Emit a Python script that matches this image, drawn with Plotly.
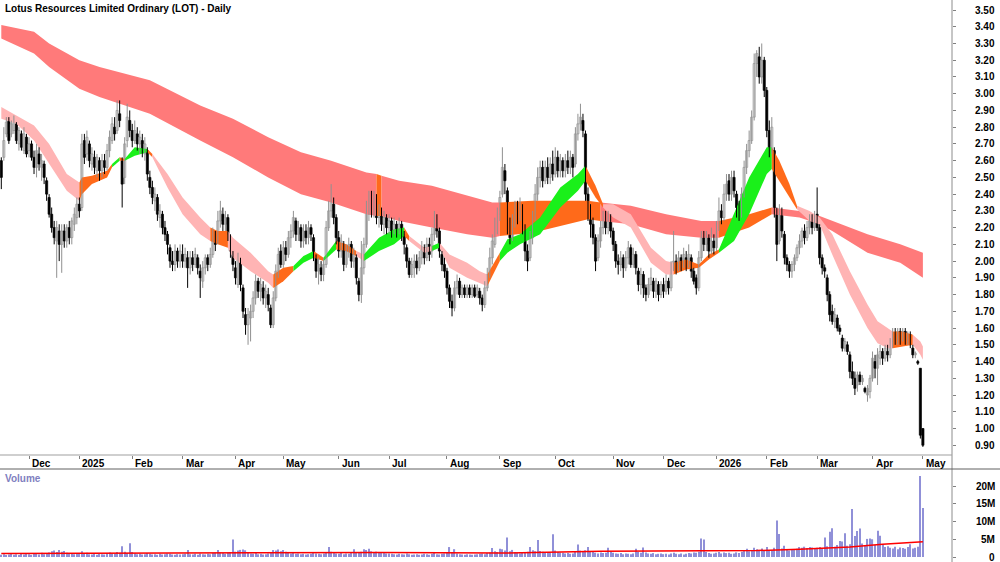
import plotly.graph_objects as go
import pandas as pd

# ---------------- data ----------------
holidays = ["2024-12-25", "2024-12-26", "2025-01-01", "2025-01-27", "2025-04-18", "2025-04-21",
            "2025-04-25", "2025-06-09", "2025-12-25", "2025-12-26", "2026-01-01", "2026-01-26",
            "2026-04-03", "2026-04-06"]

opens = [
    2.60,2.62,2.76,2.84,2.76,2.78,2.82,2.70,2.76,2.66,2.74,
    2.66,2.70,2.62,2.56,2.64,2.56,2.58,2.48,2.38,2.28,2.20,2.12,2.18,2.10,2.18,2.12,2.20,2.14,2.22,2.26,
    2.34,2.32,2.72,2.64,2.70,2.58,2.62,2.54,2.60,2.54,2.60,2.56,2.66,2.72,2.80,2.78,2.88,2.60,2.50,2.72,2.84,
    2.78,2.72,2.76,2.70,2.72,2.64,2.66,2.50,2.44,2.36,2.38,2.26,2.28,2.20,2.16,2.08,2.00,1.98,2.06,2.00,
    2.04,2.00,2.02,1.96,2.02,1.98,2.02,1.94,1.88,1.96,2.02,1.98,2.04,2.14,2.12,2.24,2.28,2.22,2.26,2.14,2.04,
    1.96,1.86,2.00,1.84,1.68,1.62,1.66,1.70,1.78,1.88,1.82,1.84,1.78,1.80,1.72,1.62,1.78,1.94,2.06,
    1.98,2.08,2.04,2.14,2.18,2.24,2.16,2.20,2.12,2.18,2.14,2.20,2.14,2.02,1.94,1.96,1.92,1.98,2.20,2.30,2.34,2.26,
    2.14,2.06,2.10,1.98,2.06,2.10,2.00,2.02,1.88,1.80,1.96,2.10,2.28,2.36,2.30,2.36,2.26,2.30,2.22,2.26,
    2.20,2.24,2.18,2.22,2.18,2.22,2.16,2.08,2.00,1.92,1.96,2.00,1.96,2.02,2.08,2.02,2.10,2.06,2.16,2.24,2.18,2.04,1.98,
    1.94,1.84,1.76,1.72,1.84,1.88,1.80,1.84,1.80,1.84,1.80,1.84,1.80,1.82,1.78,1.74,1.84,1.92,2.02,2.10,2.20,
    2.28,2.40,2.54,2.42,2.22,2.14,2.24,2.32,2.28,2.32,2.20,2.06,2.02,2.14,2.26,2.40,2.50,2.56,2.48,2.56,2.50,2.58,
    2.52,2.62,2.54,2.60,2.54,2.60,2.56,2.62,2.58,2.76,2.82,2.84,2.76,2.40,2.30,2.22,2.14,2.02,2.12,2.20,2.26,2.20,2.26,
    2.18,2.10,2.00,1.98,2.02,1.96,2.02,2.08,1.98,2.04,1.94,1.86,1.92,1.84,1.80,1.86,1.88,1.82,1.86,1.80,
    1.86,1.82,1.88,1.84,1.96,2.00,1.96,2.02,1.98,2.02,1.98,2.02,1.94,1.90,1.84,2.02,2.14,2.10,2.14,2.06,2.12,
    2.08,2.20,2.30,2.26,2.40,2.48,2.40,2.50,2.40,2.32,2.28,2.40,2.56,2.66,2.72,2.86,3.18,3.22,3.10,3.20,
    3.02,2.78,2.66,2.66,2.30,2.12,2.28,2.16,2.02,1.98,1.94,1.98,2.02,2.08,2.12,2.18,2.14,2.20,2.24,2.20,
    2.28,2.20,2.02,1.96,1.90,1.80,1.70,1.64,1.66,1.60,1.54,1.48,1.50,1.44,1.34,1.30,1.26,1.32,1.28,1.24,1.20,1.22,
    1.30,1.40,1.36,1.42,1.46,1.42,1.46,1.44,1.52,1.56,1.52,1.58,1.54,1.58,1.52,1.56,1.48,1.44,1.40,1.36,1.00,
]
highs = [
    2.62,2.80,2.86,2.86,2.84,2.87,2.83,2.80,2.78,2.80,2.76,
    2.74,2.72,2.66,2.70,2.68,2.64,2.60,2.50,2.40,2.32,2.24,2.24,2.22,2.22,2.22,2.22,2.24,2.26,2.32,2.38,
    2.38,2.76,2.76,2.78,2.72,2.68,2.66,2.64,2.62,2.64,2.64,2.70,2.78,2.86,2.86,2.96,2.96,2.62,2.74,2.94,2.90,
    2.82,2.84,2.80,2.78,2.76,2.74,2.68,2.54,2.48,2.44,2.40,2.34,2.30,2.24,2.18,2.10,2.06,2.10,2.08,2.10,
    2.10,2.08,2.06,2.06,2.06,2.08,2.04,1.98,2.00,2.04,2.04,2.08,2.20,2.18,2.30,2.36,2.32,2.30,2.28,2.16,2.06,
    2.00,2.05,2.02,1.86,1.72,1.72,1.74,1.82,1.92,1.90,1.90,1.88,1.86,1.84,1.74,1.82,1.98,2.08,2.10,
    2.12,2.12,2.18,2.22,2.30,2.26,2.24,2.22,2.22,2.22,2.24,2.22,2.16,2.04,2.02,2.00,2.02,2.24,2.36,2.46,2.38,2.28,
    2.18,2.16,2.12,2.10,2.14,2.12,2.08,2.04,1.90,2.12,2.14,2.36,2.42,2.42,2.42,2.40,2.34,2.32,2.30,2.28,
    2.28,2.26,2.26,2.24,2.26,2.24,2.18,2.10,2.02,2.02,2.04,2.04,2.06,2.12,2.10,2.14,2.14,2.20,2.30,2.28,2.20,2.06,2.02,
    1.96,1.86,1.80,1.88,1.92,1.90,1.86,1.86,1.86,1.86,1.86,1.86,1.86,1.84,1.80,1.88,1.96,2.08,2.16,2.26,2.32,
    2.42,2.68,2.58,2.44,2.26,2.28,2.36,2.36,2.38,2.34,2.22,2.10,2.18,2.30,2.46,2.56,2.60,2.60,2.60,2.62,2.62,2.66,
    2.68,2.66,2.64,2.62,2.64,2.66,2.66,2.64,2.80,2.88,2.94,2.88,2.78,2.44,2.34,2.26,2.16,2.16,2.24,2.30,2.30,2.30,2.28,
    2.20,2.12,2.04,2.06,2.04,2.06,2.12,2.10,2.08,2.06,1.96,1.96,1.94,1.86,1.90,1.96,1.90,1.90,1.88,1.88,
    1.90,1.92,1.90,2.00,2.18,2.04,2.06,2.04,2.08,2.06,2.10,2.04,1.96,1.92,2.06,2.18,2.18,2.18,2.16,2.20,2.16,
    2.24,2.38,2.34,2.46,2.52,2.52,2.54,2.54,2.42,2.36,2.44,2.60,2.70,2.78,2.90,3.24,3.26,3.28,3.30,3.22,
    3.04,2.84,2.86,2.68,2.32,2.34,2.32,2.18,2.04,2.00,2.00,2.04,2.10,2.16,2.20,2.22,2.24,2.28,2.28,2.30,
    2.44,2.22,2.04,1.98,1.92,1.82,1.74,1.72,1.68,1.62,1.56,1.54,1.52,1.46,1.40,1.34,1.34,1.34,1.32,1.25,1.26,1.32,
    1.46,1.44,1.48,1.50,1.48,1.50,1.50,1.54,1.60,1.60,1.60,1.60,1.60,1.60,1.58,1.58,1.50,1.46,1.41,1.36,1.00,
]
lows = [
    2.43,2.60,2.74,2.70,2.74,2.76,2.70,2.66,2.66,2.64,2.62,
    2.62,2.60,2.52,2.50,2.54,2.48,2.46,2.36,2.26,2.17,2.10,1.90,2.00,1.93,2.08,2.08,2.10,2.10,2.18,2.22,
    2.26,2.30,2.58,2.60,2.56,2.54,2.52,2.50,2.48,2.50,2.52,2.54,2.62,2.70,2.72,2.76,2.80,2.32,2.46,2.68,2.74,
    2.68,2.70,2.66,2.64,2.62,2.60,2.48,2.40,2.34,2.30,2.24,2.20,2.16,2.12,2.04,1.96,1.94,1.94,1.96,1.96,
    1.96,1.96,1.84,1.92,1.94,1.96,1.92,1.78,1.84,1.92,1.94,1.96,2.02,2.06,2.10,2.20,2.18,2.18,2.12,2.02,1.94,
    1.86,1.84,1.82,1.66,1.56,1.50,1.52,1.66,1.74,1.78,1.76,1.74,1.72,1.70,1.60,1.60,1.76,1.90,1.96,
    1.96,2.00,2.02,2.08,2.14,2.12,2.12,2.08,2.08,2.10,2.10,2.12,2.00,1.90,1.86,1.88,1.88,1.96,2.18,2.26,2.22,2.10,
    2.02,2.02,1.94,1.96,2.02,1.96,1.96,1.86,1.76,1.75,1.92,2.08,2.24,2.26,2.26,2.22,2.20,2.18,2.16,2.16,
    2.16,2.14,2.16,2.14,2.16,2.12,2.04,1.96,1.90,1.90,1.90,1.92,1.94,1.98,1.98,2.00,2.00,2.02,2.12,2.14,2.02,1.94,1.90,
    1.80,1.72,1.67,1.70,1.80,1.78,1.78,1.78,1.78,1.78,1.78,1.78,1.78,1.74,1.70,1.72,1.82,1.90,1.98,2.08,2.16,
    2.24,2.38,2.40,2.16,2.10,2.12,2.20,2.22,2.24,2.16,2.00,1.94,2.00,2.10,2.24,2.36,2.44,2.44,2.46,2.46,2.46,2.48,
    2.50,2.50,2.50,2.50,2.50,2.52,2.52,2.50,2.56,2.72,2.78,2.74,2.36,2.24,2.14,2.10,1.94,2.00,2.08,2.16,2.16,2.16,2.14,
    2.06,1.96,1.92,1.94,1.90,1.94,1.98,1.96,1.96,1.92,1.82,1.80,1.78,1.76,1.78,1.82,1.78,1.78,1.76,1.78,
    1.78,1.80,1.80,1.82,1.94,1.92,1.94,1.94,1.96,1.94,1.96,1.90,1.86,1.80,1.82,2.00,2.06,2.06,2.02,2.04,2.04,
    2.06,2.18,2.22,2.24,2.36,2.36,2.36,2.38,2.26,2.24,2.26,2.38,2.52,2.62,2.70,2.84,3.10,3.06,3.06,2.98,
    2.74,2.62,2.64,2.26,2.00,2.10,2.14,1.98,1.94,1.90,1.90,1.94,2.00,2.04,2.08,2.10,2.12,2.16,2.16,2.18,
    2.18,1.98,1.92,1.90,1.76,1.64,1.62,1.60,1.58,1.56,1.46,1.46,1.44,1.30,1.26,1.20,1.22,1.26,1.26,1.21,1.16,1.18,
    1.28,1.30,1.26,1.38,1.38,1.40,1.40,1.42,1.48,1.50,1.50,1.50,1.52,1.50,1.50,1.48,1.42,1.42,1.38,0.94,0.89,
]
closes = [
    2.50,2.72,2.83,2.72,2.82,2.84,2.72,2.78,2.68,2.76,2.64,
    2.70,2.62,2.56,2.66,2.58,2.60,2.50,2.40,2.28,2.20,2.14,2.20,2.10,2.18,2.12,2.20,2.14,2.24,2.28,2.34,
    2.30,2.70,2.62,2.74,2.60,2.64,2.56,2.62,2.54,2.60,2.56,2.66,2.74,2.82,2.76,2.90,2.84,2.46,2.70,2.86,2.78,
    2.72,2.78,2.70,2.74,2.66,2.70,2.52,2.44,2.38,2.40,2.28,2.30,2.20,2.16,2.10,2.00,1.98,2.06,2.00,2.06,
    2.00,2.04,1.96,2.02,1.98,2.04,1.96,1.90,1.96,2.02,1.98,2.04,2.16,2.10,2.24,2.30,2.22,2.26,2.16,2.06,1.98,
    1.90,2.02,1.86,1.70,1.62,1.68,1.70,1.78,1.88,1.82,1.86,1.78,1.82,1.74,1.62,1.78,1.94,2.04,1.98,
    2.08,2.04,2.14,2.18,2.26,2.16,2.20,2.12,2.18,2.14,2.20,2.16,2.02,1.94,1.98,1.92,1.98,2.20,2.30,2.36,2.26,2.14,
    2.06,2.12,1.98,2.06,2.10,2.00,2.04,1.90,1.80,1.96,2.10,2.30,2.36,2.30,2.38,2.26,2.30,2.22,2.26,2.20,
    2.24,2.18,2.22,2.18,2.22,2.16,2.10,2.00,1.92,1.98,2.00,1.96,2.02,2.08,2.02,2.10,2.04,2.16,2.26,2.18,2.06,1.98,1.94,
    1.84,1.76,1.72,1.84,1.88,1.80,1.84,1.80,1.84,1.80,1.84,1.79,1.84,1.78,1.74,1.84,1.92,2.02,2.12,2.20,2.28,
    2.38,2.56,2.48,2.22,2.14,2.24,2.32,2.28,2.34,2.20,2.06,2.00,2.14,2.26,2.40,2.50,2.56,2.48,2.56,2.50,2.58,2.52,
    2.62,2.54,2.60,2.54,2.60,2.56,2.62,2.56,2.76,2.82,2.86,2.78,2.40,2.30,2.22,2.14,2.00,2.12,2.20,2.26,2.20,2.26,2.18,
    2.10,2.00,1.98,2.02,1.96,2.02,2.08,1.98,2.04,1.96,1.86,1.92,1.84,1.80,1.86,1.90,1.82,1.88,1.80,1.86,
    1.82,1.88,1.84,1.96,2.00,1.96,2.02,1.98,2.04,1.98,2.04,1.94,1.88,1.84,2.02,2.14,2.10,2.16,2.06,2.12,2.08,
    2.20,2.30,2.26,2.40,2.46,2.40,2.50,2.42,2.32,2.28,2.40,2.56,2.66,2.72,2.86,3.18,3.24,3.10,3.20,3.02,
    2.78,2.66,2.80,2.30,2.10,2.30,2.18,2.02,1.98,1.94,1.98,2.02,2.08,2.12,2.18,2.14,2.20,2.24,2.20,2.26,
    2.20,2.02,1.96,1.94,1.80,1.68,1.64,1.68,1.60,1.58,1.48,1.52,1.46,1.34,1.30,1.24,1.32,1.28,1.30,1.22,1.24,1.30,
    1.42,1.36,1.44,1.46,1.42,1.48,1.44,1.52,1.56,1.52,1.58,1.54,1.58,1.52,1.56,1.50,1.44,1.45,1.39,0.96,0.90,
]
volumes_m = [
    0.6,0.8,0.5,0.7,0.9,0.6,0.8,0.5,1.0,0.7,0.9,
    0.8,0.6,1.1,0.9,0.7,1.2,0.8,1.0,1.3,1.6,1.8,1.4,2.0,1.5,1.7,1.2,1.0,0.9,0.8,1.1,
    0.9,1.6,1.0,1.2,0.8,0.7,1.0,0.6,0.9,0.8,0.7,1.1,1.3,1.0,0.9,1.4,1.2,3.0,1.5,1.1,3.9,
    1.4,1.0,0.8,0.9,0.7,0.8,1.1,0.9,0.7,0.8,0.6,0.9,0.7,0.8,1.0,0.9,0.7,0.6,0.8,0.7,
    0.8,0.9,2.0,0.8,0.7,0.9,0.6,1.0,0.8,0.7,0.9,0.8,1.1,1.2,2.0,1.3,1.1,0.9,1.2,1.4,4.9,
    1.5,1.8,2.0,2.1,1.9,1.2,1.0,0.9,1.1,0.8,0.9,0.7,0.8,1.0,1.2,2.0,1.8,2.1,1.6,
    2.0,1.5,1.2,1.0,1.1,0.9,1.0,0.8,0.9,0.7,0.8,0.9,1.2,1.0,0.9,0.8,1.0,1.3,2.8,1.5,1.2,1.0,
    0.9,1.1,0.8,1.0,0.9,1.2,2.2,1.1,1.3,1.5,2.2,2.0,2.3,1.6,1.4,1.5,1.2,1.3,1.1,1.0,
    1.0,0.9,0.8,0.7,0.9,0.8,0.7,1.0,0.8,0.6,0.7,0.8,0.6,0.7,0.9,0.8,0.6,0.9,1.1,0.8,0.7,0.9,1.0,
    1.2,2.8,1.4,2.2,1.0,0.8,0.7,0.6,0.8,0.7,0.6,0.7,0.8,0.9,1.0,0.8,1.1,1.3,2.5,1.6,1.4,
    2.3,2.2,1.8,5.5,1.6,2.0,1.4,1.2,1.0,1.3,1.1,1.5,2.8,1.9,1.6,4.8,1.7,1.5,1.4,1.2,1.3,6.4,
    1.8,1.4,1.3,1.2,1.0,1.1,0.9,1.0,1.6,3.5,1.8,1.5,1.9,2.8,1.6,1.4,1.2,1.0,1.3,1.1,1.2,2.6,1.5,
    1.2,1.0,0.9,1.1,0.8,1.0,0.9,0.8,1.0,2.3,1.4,1.2,2.7,1.3,1.0,0.9,1.1,0.8,0.9,1.0,
    0.8,0.9,0.7,1.0,1.2,0.9,0.8,1.0,0.7,0.9,1.1,1.0,1.3,1.2,1.5,5.2,4.9,1.4,1.1,0.9,1.0,
    1.2,1.4,1.0,1.3,1.1,1.2,0.9,1.0,1.3,1.1,1.5,1.8,2.3,1.6,2.0,2.6,2.2,1.8,2.4,2.0,
    2.8,2.0,1.9,2.6,10.3,6.5,2.4,3.2,2.2,1.8,2.0,2.1,2.3,2.8,2.6,2.9,2.5,2.8,2.7,2.4,
    2.6,2.8,2.4,5.5,3.0,7.1,8.1,2.9,3.4,4.5,4.4,6.7,3.2,3.6,13.5,5.9,7.3,8.0,3.8,3.4,5.1,5.2,
    5.0,3.4,7.4,6.0,3.5,2.8,3.0,2.6,2.4,2.9,2.2,2.7,2.5,2.3,2.8,3.6,2.4,2.6,2.9,22.8,13.8,
]

# short-term ribbon (sampled at trading-day index)
sb_idx = [0,6,13,19,26, 31,32,36,42,44, 47,49,53,58,60, 66,72,79,83,86, 90,92,99,106,108,
          112,116,120,124,128, 133,137,141,144,150, 156,160,162,168,171, 174,178,185,190,193,
          198,201,206,214,222, 229,232,236,239,243, 250,258,264,267,272, 277,281,285,291,297,
          304,306,309,313,316, 321,325,330,337,344, 348,352,354,358,362, 365,366]
sb_up = [2.92,2.87,2.81,2.70,2.52, 2.47,2.50,2.51,2.54,2.58, 2.62,2.61,2.68,2.67,2.64,
         2.52,2.38,2.26,2.20,2.18, 2.18,2.14,2.05,1.94,1.92, 1.96,1.97,2.03,2.06,2.02,
         2.12,2.10,2.06,2.04,2.14, 2.19,2.20,2.15,2.08,2.09, 2.11,2.04,1.99,1.94,1.92,
         2.05,2.13,2.16,2.26,2.44, 2.52,2.57,2.45,2.34,2.34, 2.28,2.08,2.00,1.99,2.01,
         1.98,2.04,2.07,2.28,2.50, 2.68,2.68,2.60,2.46,2.33, 2.30,2.26,2.16,1.94,1.74,
         1.64,1.60,1.58,1.58,1.56, 1.52,1.49]
sb_lo = [2.85,2.82,2.72,2.58,2.42, 2.36,2.40,2.46,2.50,2.56, 2.60,2.60,2.63,2.65,2.62,
         2.44,2.28,2.16,2.12,2.10, 2.08,2.02,1.94,1.87,1.84, 1.88,1.94,1.99,2.02,2.00,
         2.07,2.06,2.03,2.00,2.06, 2.10,2.15,2.12,2.05,2.06, 2.08,1.96,1.90,1.87,1.85,
         2.00,2.05,2.10,2.16,2.32, 2.42,2.48,2.38,2.32,2.26, 2.20,1.99,1.92,1.92,1.95,
         1.96,2.01,2.05,2.12,2.28, 2.52,2.55,2.48,2.38,2.31, 2.24,2.22,2.04,1.80,1.60,
         1.51,1.48,1.48,1.49,1.50, 1.44,1.41]
sb_col = ["P","P","P","P","P", "O","O","O","O","G", "O","G","G","O","P", "P","P","P","O","O",
          "P","P","P","P","O", "O","G","G","O","G", "O","O","P","G","G", "G","O","P","P","G",
          "P","P","P","P","O", "G","G","G","G","G", "G","O","O","P","P", "P","P","P","O","O",
          "O","O","G","G","G", "G","O","O","O","P", "P","P","P","P","P", "P","P","O","O","P", "P"]

# long-term ribbon
lb_idx = [0,13,19,31,39, 59,79,92,106,119, 131,145,149,151,158, 171,185,195,198,211,
          222,233,238,250,264, 278,285,297,306,317, 325,330,344,357,366]
lb_up = [3.41,3.37,3.30,3.20,3.16, 3.08,2.93,2.85,2.74,2.65, 2.60,2.53,2.52,2.51,2.48,
         2.45,2.39,2.35,2.35,2.36, 2.36,2.36,2.35,2.33,2.28, 2.24,2.24,2.28,2.32,2.30,
         2.27,2.24,2.16,2.10,2.05]
lb_lo = [3.33,3.24,3.16,3.03,2.98, 2.88,2.72,2.62,2.50,2.40, 2.35,2.28,2.27,2.27,2.24,
         2.20,2.16,2.14,2.15,2.17, 2.21,2.25,2.24,2.22,2.16, 2.14,2.14,2.20,2.28,2.26,
         2.22,2.18,2.05,1.99,1.90]
lb_col = ["R","R","R","R","R", "R","R","R","R","R", "R","R","O","R","R", "R","R","R","O","O",
          "O","O","R","R","R", "R","O","O","R","R", "R","R","R","R"]

# volume moving average (millions)
vma_idx = [0, 60, 100, 150, 175, 198, 238, 278, 300, 317, 337, 350, 366]
vma_val = [1.0, 1.1, 1.3, 1.3, 1.2, 1.1, 1.6, 1.6, 1.8, 2.2, 2.8, 3.6, 4.3]

price_tick_labels = ["0.90","1.00","1.10","1.20","1.30","1.40","1.50","1.60","1.70","1.80","1.90",
                     "2.00","2.10","2.20","2.30","2.40","2.50","2.60","2.70","2.80","2.90","3.00",
                     "3.10","3.20","3.30","3.40","3.50"]
vol_tick_vals = [0, 5, 10, 15, 20]
vol_tick_labels = ["0", "5M", "10M", "15M", "20M"]

title_text = "Lotus Resources Limited Ordinary (LOT) - Daily"

# ---------------- layout geometry ----------------
W, H = 1000, 562
PLOT_R = 952          # right edge of plotting area (px)
Y_PRICE_BOT = 455     # bottom of price panel (px)
Y_VOL_TOP = 469       # top of volume panel (px)

def py(y_px):
    return 1 - y_px / H

n = len(closes)
dates = pd.bdate_range("2024-11-15", "2026-05-29")
dates = dates[~dates.isin(pd.to_datetime(holidays))][:n]
month_idx, month_lab = [], []
for k in range(1, n):
    if dates[k].month != dates[k - 1].month:
        month_idx.append(k)
        month_lab.append(str(dates[k].year) if dates[k].month == 1 else dates[k].strftime("%b"))

px_per_day = 2.518
x0 = -1.3 / px_per_day
x_range = [x0, x0 + PLOT_R / px_per_day]
p_range = [3.5 - (Y_PRICE_BOT - 10) / 167.4, 3.5 + 10 / 167.4]
v_scale = 3.55  # px per million
v_range = [-(H - 557) / v_scale, (557 - Y_VOL_TOP) / v_scale]

FONT = "Liberation Sans, Arial, sans-serif"
COLS = {"R": "#ff7a7a", "O": "#ff6a1a", "G": "#1af01a", "P": "#ffb4b4"}

fig = go.Figure()

def add_band(idx, up, lo, cols):
    k = 0
    while k < len(cols):
        j = k
        while j + 1 < len(cols) and cols[j + 1] == cols[k]:
            j += 1
        xs = idx[k:j + 2]
        fig.add_trace(go.Scatter(x=xs, y=lo[k:j + 2], mode="lines", line=dict(width=0),
                                 hoverinfo="skip", showlegend=False))
        fig.add_trace(go.Scatter(x=xs, y=up[k:j + 2], mode="lines", line=dict(width=0),
                                 fill="tonexty", fillcolor=COLS[cols[k]],
                                 hoverinfo="skip", showlegend=False))
        k = j + 1

add_band(lb_idx, lb_up, lb_lo, lb_col)
add_band(sb_idx, sb_up, sb_lo, sb_col)

# wicks
wx_up, wy_up, wx_dn, wy_dn = [], [], [], []
for i in range(n):
    if closes[i] >= opens[i]:
        wx_up += [i, i, None]; wy_up += [lows[i], highs[i], None]
    else:
        wx_dn += [i, i, None]; wy_dn += [lows[i], highs[i], None]
fig.add_trace(go.Scatter(x=wx_up, y=wy_up, mode="lines", line=dict(color="#909090", width=1),
                         hoverinfo="skip", showlegend=False))
fig.add_trace(go.Scatter(x=wx_dn, y=wy_dn, mode="lines", line=dict(color="#000000", width=1),
                         hoverinfo="skip", showlegend=False))

# bodies
base = [min(o, c) for o, c in zip(opens, closes)]
hgt = [max(abs(c - o), 0.006) for o, c in zip(opens, closes)]
fill = ["#ffffff" if c >= o else "#000000" for o, c in zip(opens, closes)]
edge = ["#909090" if c >= o else "#000000" for o, c in zip(opens, closes)]
fig.add_trace(go.Bar(x=list(range(n)), y=hgt, base=base, width=0.85,
                     marker=dict(color=fill, line=dict(color=edge, width=0.7)),
                     hoverinfo="skip", showlegend=False))

# volume
fig.add_trace(go.Bar(x=list(range(n)), y=volumes_m, width=0.45, xaxis="x2", yaxis="y2",
                     marker=dict(color="#9090d8", line=dict(width=0)),
                     hoverinfo="skip", showlegend=False))
fig.add_trace(go.Scatter(x=vma_idx, y=vma_val, xaxis="x2", yaxis="y2", mode="lines",
                         line=dict(color="#ff0000", width=1.5), hoverinfo="skip", showlegend=False))

annotations = [
    dict(text="<b>" + title_text + "</b>", x=3 / W, y=py(8.5), xref="paper", yref="paper",
         xanchor="left", yanchor="middle", showarrow=False, font=dict(family=FONT, size=10, color="#000")),
    dict(text="<b>Volume</b>", x=3 / W, y=py(478), xref="paper", yref="paper",
         xanchor="left", yanchor="middle", showarrow=False, font=dict(family=FONT, size=10, color="#8080c0")),
]
for lab in price_tick_labels:
    annotations.append(dict(text="<b>" + lab + "</b>", x=997 / W, y=float(lab), xref="paper", yref="y",
                            xanchor="right", yanchor="middle", showarrow=False,
                            font=dict(family=FONT, size=10, color="#000")))
for v, lab in zip(vol_tick_vals, vol_tick_labels):
    annotations.append(dict(text="<b>" + lab + "</b>", x=997 / W, y=v, xref="paper", yref="y2",
                            xanchor="right", yanchor="middle", showarrow=False,
                            font=dict(family=FONT, size=10, color="#000")))
for k, lab in zip(month_idx, month_lab):
    annotations.append(dict(text="<b>" + lab + "</b>", x=k, y=py(463), xref="x", yref="paper",
                            xanchor="left", yanchor="middle", xshift=1, showarrow=False,
                            font=dict(family=FONT, size=10, color="#000")))

shapes = [
    dict(type="line", xref="paper", yref="paper", x0=PLOT_R / W, x1=PLOT_R / W, y0=0, y1=1,
         line=dict(color="#8c8c8c", width=1)),
    dict(type="line", xref="paper", yref="paper", x0=0, x1=PLOT_R / W, y0=py(Y_PRICE_BOT), y1=py(Y_PRICE_BOT),
         line=dict(color="#a0a0a0", width=1.2)),
    dict(type="line", xref="paper", yref="paper", x0=0, x1=1, y0=py(Y_VOL_TOP), y1=py(Y_VOL_TOP),
         line=dict(color="#606060", width=1)),
]

fig.update_layout(
    width=W, height=H, margin=dict(l=0, r=0, t=0, b=0),
    paper_bgcolor="white", plot_bgcolor="white", barmode="overlay", showlegend=False,
    xaxis=dict(domain=[0, PLOT_R / W], range=x_range, anchor="y", showgrid=False, zeroline=False,
               tickvals=month_idx, ticks="outside", ticklen=3, tickcolor="#808080",
               showticklabels=False, showline=False, fixedrange=True),
    yaxis=dict(domain=[py(Y_PRICE_BOT), 1], range=p_range, side="right", anchor="x",
               tickvals=[float(t) for t in price_tick_labels], ticks="outside", ticklen=3,
               tickcolor="#808080", showticklabels=False, showgrid=False, zeroline=False, showline=False),
    xaxis2=dict(domain=[0, PLOT_R / W], range=x_range, anchor="y2", showgrid=False, zeroline=False,
                showticklabels=False, ticks="", showline=False),
    yaxis2=dict(domain=[0, py(Y_VOL_TOP)], range=v_range, side="right", anchor="x2",
                tickvals=vol_tick_vals, ticks="outside", ticklen=3, tickcolor="#808080",
                showticklabels=False, showgrid=False, zeroline=False, showline=False),
    annotations=annotations, shapes=shapes,
)

fig.write_html("out.html")
